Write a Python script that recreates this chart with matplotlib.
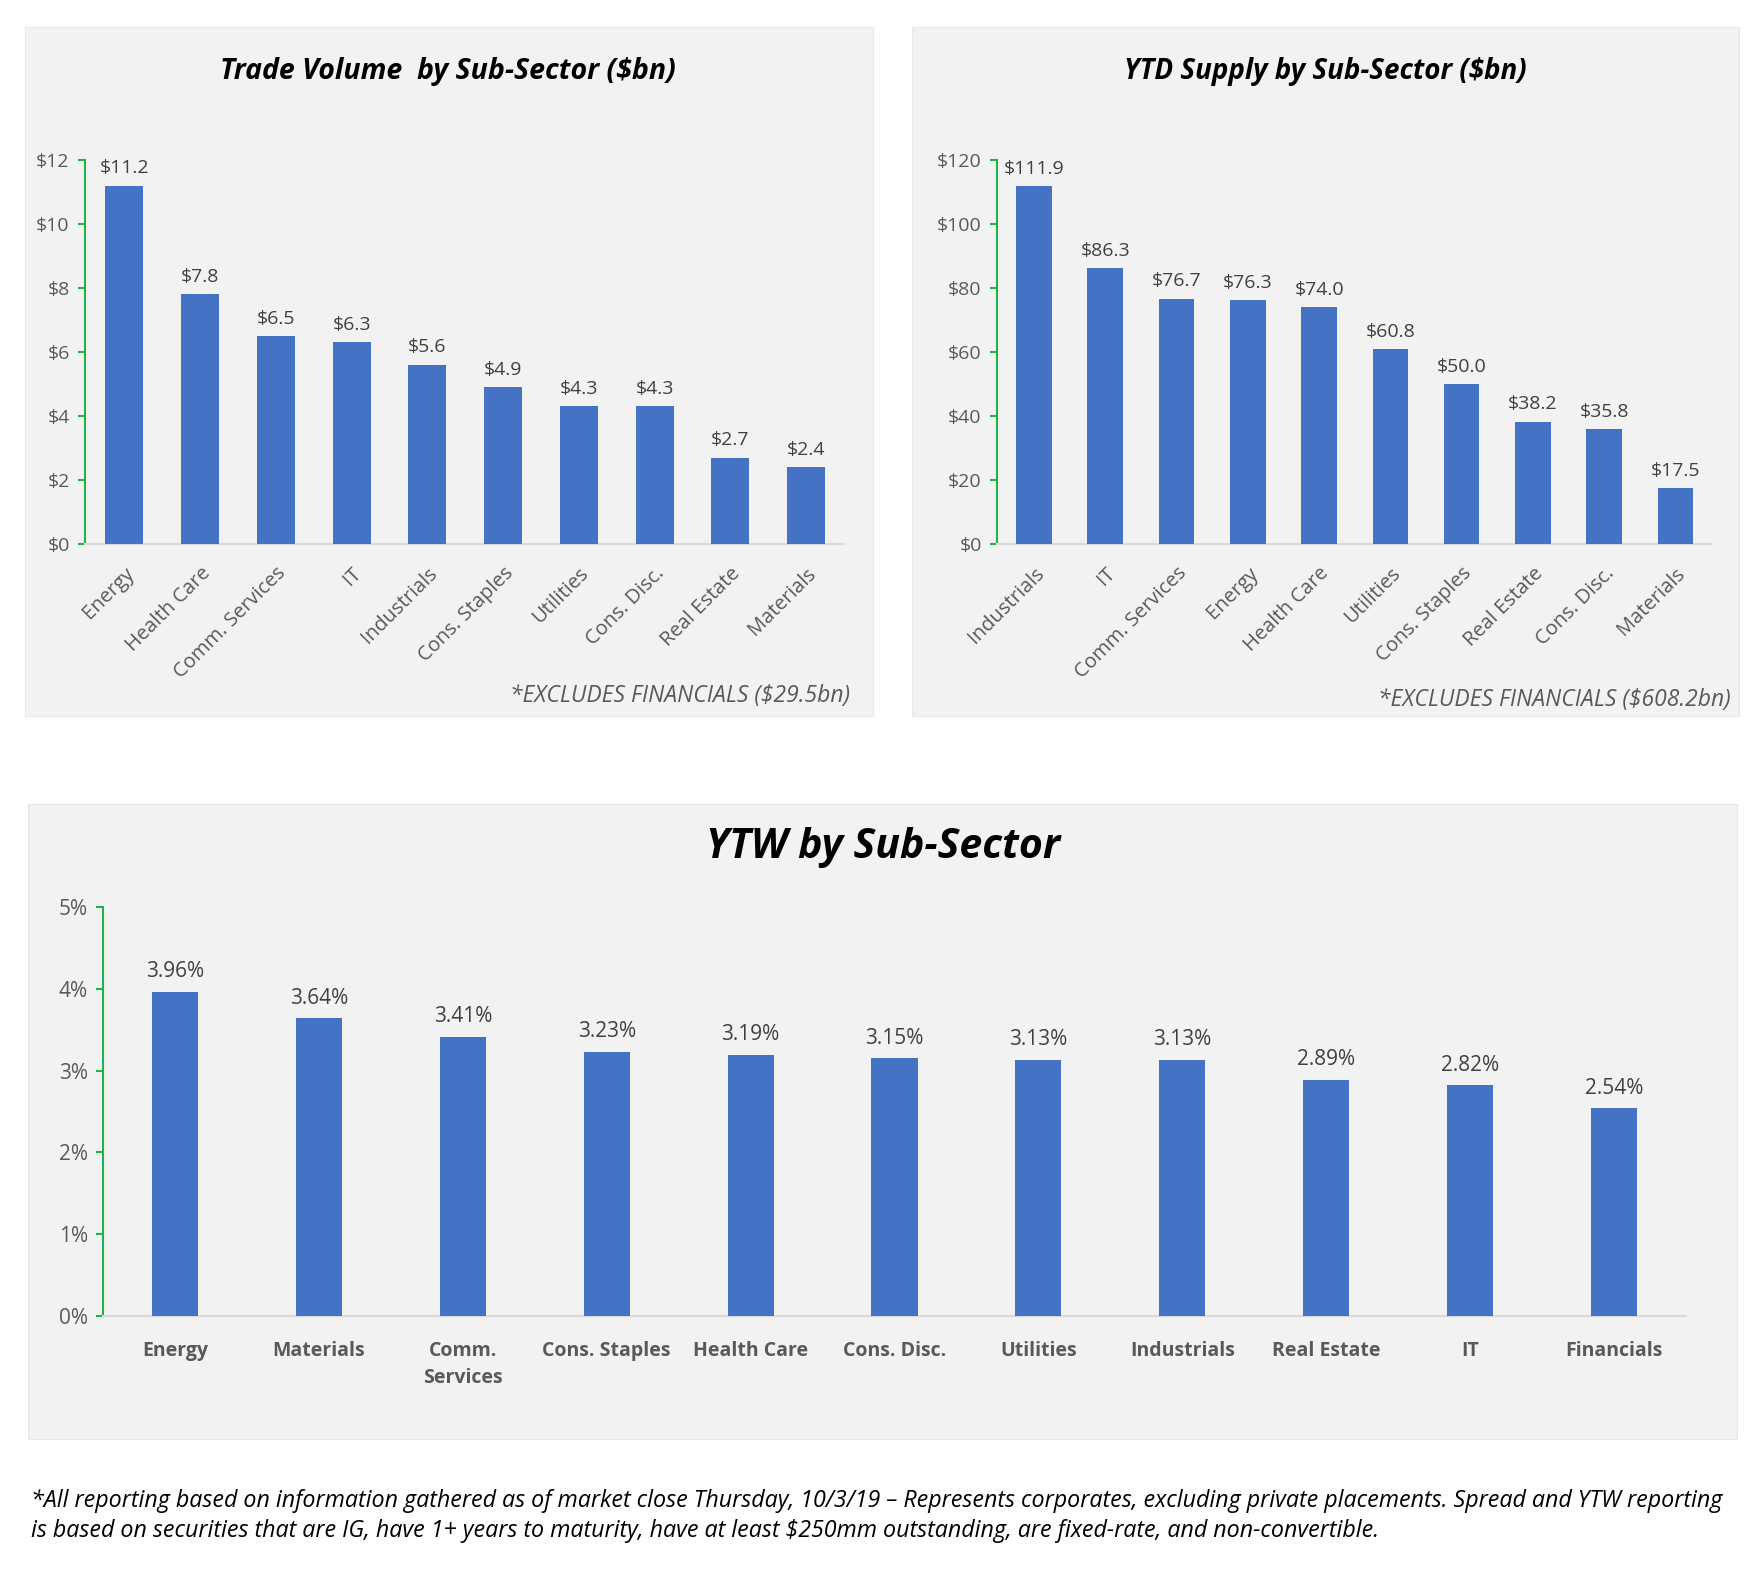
import matplotlib
matplotlib.use("Agg")
import matplotlib.pyplot as plt
from matplotlib import font_manager as fm
from matplotlib.patches import Rectangle

# ---------------- data ----------------
tv_categories = ["Energy", "Health Care", "Comm. Services", "IT", "Industrials",
                 "Cons. Staples", "Utilities", "Cons. Disc.", "Real Estate", "Materials"]
tv_values = [11.2, 7.8, 6.5, 6.3, 5.6, 4.9, 4.3, 4.3, 2.7, 2.4]
tv_ticks = [0, 2, 4, 6, 8, 10, 12]

ytd_categories = ["Industrials", "IT", "Comm. Services", "Energy", "Health Care",
                  "Utilities", "Cons. Staples", "Real Estate", "Cons. Disc.", "Materials"]
ytd_values = [111.9, 86.3, 76.7, 76.3, 74.0, 60.8, 50.0, 38.2, 35.8, 17.5]
ytd_ticks = [0, 20, 40, 60, 80, 100, 120]

ytw_categories = ["Energy", "Materials", "Comm.\nServices", "Cons. Staples", "Health Care",
                  "Cons. Disc.", "Utilities", "Industrials", "Real Estate", "IT", "Financials"]
ytw_values = [3.96, 3.64, 3.41, 3.23, 3.19, 3.15, 3.13, 3.13, 2.89, 2.82, 2.54]
ytw_ticks = [0, 1, 2, 3, 4, 5]

# ---------------- style ----------------
def pick_font():
    for name in ["Liberation Sans Narrow", "Open Sans", "DejaVu Sans"]:
        try:
            fm.findfont(fm.FontProperties(family=name), fallback_to_default=False)
            return name
        except Exception:
            pass
    return "DejaVu Sans"

FONT = pick_font()
plt.rcParams['font.family'] = [FONT, 'DejaVu Sans']

BAR = "#4472C4"
PANEL = "#F2F2F2"
GREEN = "#22B24C"
GRAYAX = "#D9D9D9"
TICK = "#595959"
LABEL = "#404040"

W, H = 1759, 1582
fig = plt.figure(figsize=(W / 100, H / 100), dpi=100)
fig.patch.set_facecolor("white")


def px_rect(x0, y0, x1, y1):
    return [x0 / W, 1 - y1 / H, (x1 - x0) / W, (y1 - y0) / H]


# panel backgrounds
for (x0, y0, x1, y1) in [(25, 27, 873, 716), (912, 27, 1739, 716), (28, 804, 1737, 1439)]:
    l, b, w, h = px_rect(x0, y0, x1, y1)
    fig.patches.append(Rectangle((l, b), w, h, transform=fig.transFigure,
                                 facecolor=PANEL, edgecolor="#E8E8E8", lw=0.8, zorder=-5))


def style_axes(ax, ticks, fmt, labsize):
    ax.set_facecolor("none")
    ax.set_zorder(2)
    for s in ["top", "right"]:
        ax.spines[s].set_visible(False)
    ax.spines["left"].set_color(GREEN)
    ax.spines["left"].set_linewidth(1.5)
    ax.spines["bottom"].set_color(GRAYAX)
    ax.spines["bottom"].set_linewidth(1.5)
    ax.set_yticks(ticks)
    ax.set_yticklabels([fmt(t) for t in ticks])
    ax.tick_params(axis="y", colors=GREEN, length=5, width=1.5, direction="out",
                   labelcolor=TICK, labelsize=labsize, pad=6)
    ax.tick_params(axis="x", length=0, labelcolor=TICK)


# ---- Trade Volume ----
ax1 = fig.add_axes(px_rect(85, 160, 844, 544))
x1 = range(len(tv_categories))
b1 = ax1.bar(x1, tv_values, width=0.5, color=BAR, zorder=3)
ax1.set_xlim(-0.52, len(tv_categories) - 0.5)
ax1.set_ylim(0, 12)
style_axes(ax1, tv_ticks, lambda t: f"${t}", 14)
ax1.set_xticks(list(x1))
ax1.set_xticklabels(tv_categories, rotation=45, ha="right", rotation_mode="anchor", fontsize=14.5)
ax1.tick_params(axis="x", pad=14)
ax1.bar_label(b1, labels=[f"${v:.1f}" for v in tv_values], padding=6, color=LABEL, fontsize=14)

# ---- YTD Supply ----
ax2 = fig.add_axes(px_rect(997, 160, 1711, 544))
x2 = range(len(ytd_categories))
b2 = ax2.bar(x2, ytd_values, width=0.5, color=BAR, zorder=3)
ax2.set_xlim(-0.52, len(ytd_categories) - 0.5)
ax2.set_ylim(0, 120)
style_axes(ax2, ytd_ticks, lambda t: f"${t}", 14)
ax2.set_xticks(list(x2))
ax2.set_xticklabels(ytd_categories, rotation=45, ha="right", rotation_mode="anchor", fontsize=14.5)
ax2.tick_params(axis="x", pad=14)
ax2.bar_label(b2, labels=[f"${v:.1f}" for v in ytd_values], padding=6, color=LABEL, fontsize=14)

# ---- YTW ----
ax3 = fig.add_axes(px_rect(103, 907, 1686, 1316))
x3 = range(len(ytw_categories))
b3 = ax3.bar(x3, ytw_values, width=0.32, color=BAR, zorder=3)
ax3.set_xlim(-0.5, len(ytw_categories) - 0.5)
ax3.set_ylim(0, 5)
style_axes(ax3, ytw_ticks, lambda t: f"{t}%", 15)
ax3.set_xticks(list(x3))
ax3.set_xticklabels(ytw_categories, fontsize=14, fontweight="bold", linespacing=1.45)
ax3.tick_params(axis="x", pad=18)
ax3.bar_label(b3, labels=[f"{v:.2f}%" for v in ytw_values], padding=7, color=LABEL, fontsize=15)

# ---- titles & notes ----
fig.text(448 / W, 1 - 72 / H, "Trade Volume  by Sub-Sector ($bn)", ha="center", va="center",
         fontsize=20.5, fontweight="bold", fontstyle="italic", color="black")
fig.text(1325 / W, 1 - 72 / H, "YTD Supply by Sub-Sector ($bn)", ha="center", va="center",
         fontsize=20, fontweight="bold", fontstyle="italic", color="black")
fig.text(883 / W, 1 - 848 / H, "YTW by Sub-Sector", ha="center", va="center",
         fontsize=29.5, fontweight="bold", fontstyle="italic", color="black")

fig.text(850 / W, 1 - 696 / H, "*EXCLUDES FINANCIALS ($29.5bn)", ha="right", va="center",
         fontsize=16.5, fontstyle="italic", color=TICK)
fig.text(1731 / W, 1 - 700 / H, "*EXCLUDES FINANCIALS ($608.2bn)", ha="right", va="center",
         fontsize=16.5, fontstyle="italic", color=TICK)

fig.text(31 / W, 1 - 1501 / H,
         "*All reporting based on information gathered as of market close Thursday, 10/3/19 \u2013 "
         "Represents corporates, excluding private placements. Spread and YTW reporting",
         ha="left", va="center", fontsize=16.75, fontstyle="italic", color="black")
fig.text(31 / W, 1 - 1531 / H,
         "is based on securities that are IG, have 1+ years to maturity, have at least $250mm "
         "outstanding, are fixed-rate, and non-convertible.",
         ha="left", va="center", fontsize=16.75, fontstyle="italic", color="black")

fig.savefig("out.png", dpi=100, facecolor="white")
